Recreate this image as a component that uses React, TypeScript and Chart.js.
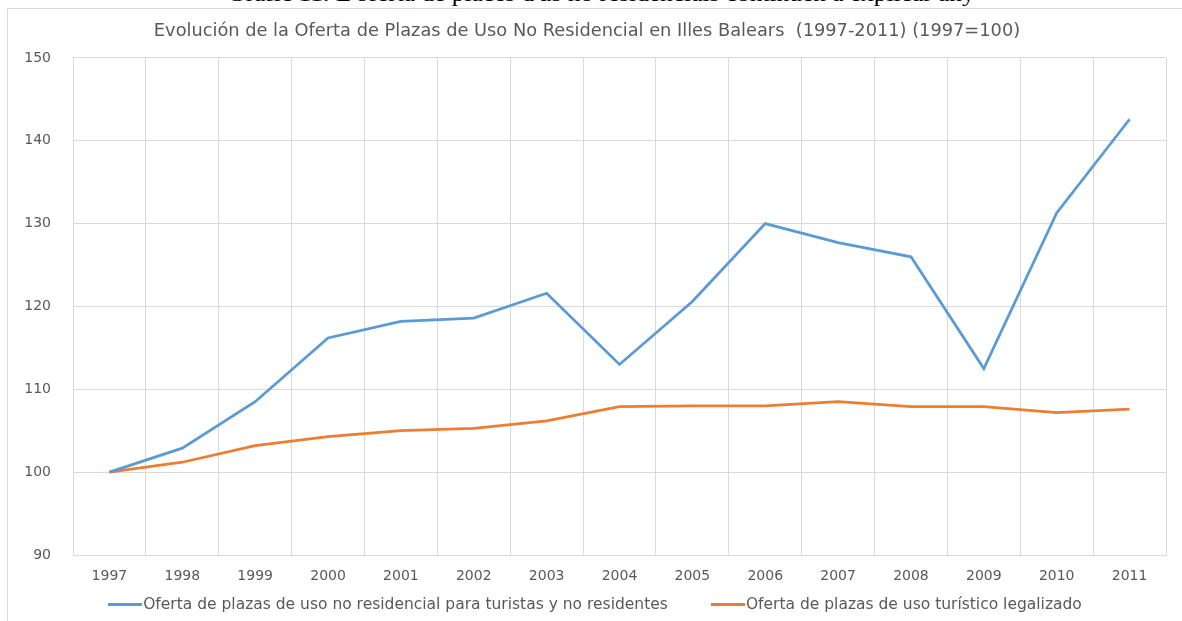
import React, { useEffect, useRef } from "react";
import { Chart, registerables } from "chart.js";

Chart.register(...registerables);

const years = ["1997", "1998", "1999", "2000", "2001", "2002", "2003", "2004", "2005", "2006", "2007", "2008", "2009", "2010", "2011"];
const noResidencial = [100, 102.9, 108.5, 116.2, 118.2, 118.6, 121.6, 113.0, 120.6, 130.0, 127.7, 126.0, 112.5, 131.3, 142.6];
const turisticoLegal = [100, 101.2, 103.2, 104.3, 105.0, 105.3, 106.2, 107.9, 108.0, 108.0, 108.5, 107.9, 107.9, 107.2, 107.6];
const seriesNames = [
  "Oferta de plazas de uso no residencial para turistas y no residentes",
  "Oferta de plazas de uso turístico legalizado",
];
const seriesColors = ["#5B9BD5", "#ED7D31"];
const chartTitle = "Evolución de la Oferta de Plazas de Uso No Residencial en Illes Balears  (1997-2011) (1997=100)";
const pageCaption = "Gràfic 11. L'oferta de places d'ús no residencials continuen a explicar any";

const FONT = "'DejaVu Sans', sans-serif";
const TEXT = "#595959";
const GRID = "#d9d9d9";

export default function App() {
  const canvasRef = useRef<HTMLCanvasElement | null>(null);

  useEffect(() => {
    const canvas = canvasRef.current;
    if (!canvas) return;
    const chart = new Chart(canvas, {
      type: "line",
      data: {
        labels: years,
        datasets: [
          {
            label: seriesNames[0],
            data: noResidencial,
            borderColor: seriesColors[0],
            backgroundColor: seriesColors[0],
            borderWidth: 2.75,
            pointRadius: 0,
            tension: 0,
          },
          {
            label: seriesNames[1],
            data: turisticoLegal,
            borderColor: seriesColors[1],
            backgroundColor: seriesColors[1],
            borderWidth: 2.75,
            pointRadius: 0,
            tension: 0,
          },
        ],
      },
      options: {
        responsive: false,
        animation: false,
        devicePixelRatio: 1,
        layout: { padding: { left: 0, right: 10, top: 0, bottom: 36 } },
        plugins: {
          legend: { display: false },
          tooltip: { enabled: false },
          title: {
            display: true,
            text: chartTitle,
            color: TEXT,
            font: { family: FONT, size: 17.8, weight: "normal", lineHeight: 1.2 },
            padding: { top: 11.3, bottom: 16.3 },
          },
        },
        scales: {
          x: {
            offset: true,
            grid: { offset: true, color: GRID, lineWidth: 1, drawTicks: false },
            border: { color: GRID },
            ticks: { color: TEXT, font: { family: FONT, size: 14 }, padding: 13, maxRotation: 0, autoSkip: false },
            afterFit: (s: any) => { s.height = 30; },
          },
          y: {
            min: 90,
            max: 150,
            grid: { color: GRID, lineWidth: 1, drawTicks: false },
            border: { color: GRID },
            ticks: { stepSize: 10, color: TEXT, font: { family: FONT, size: 14 }, padding: 22 },
            afterFit: (s: any) => { s.width = 65; },
          },
        },
      },
    });
    return () => chart.destroy();
  }, []);

  return (
    <div style={{ position: "fixed", left: 0, top: 0, width: 1182, height: 621, overflow: "hidden", background: "#fff" }}>
      <div
        style={{
          position: "absolute",
          left: 10,
          width: 1182,
          top: -16,
          textAlign: "center",
          fontFamily: "'Liberation Serif', 'Times New Roman', serif",
          fontSize: 20,
          lineHeight: "20px",
          color: "#000",
          whiteSpace: "nowrap",
          transform: "scaleX(1.27)",
          transformOrigin: "center",
        }}
      >
        {pageCaption}
      </div>
      <div
        style={{
          position: "absolute",
          left: 7,
          top: 8,
          width: 1180,
          height: 640,
          border: `1px solid ${GRID}`,
          background: "#fff",
        }}
      />
      <canvas
        ref={canvasRef}
        width={1168}
        height={612}
        style={{ position: "absolute", left: 8, top: 9, width: 1168, height: 612 }}
      />
      <div
        style={{
          position: "absolute",
          left: 4,
          width: 1182,
          top: 595,
          display: "flex",
          justifyContent: "center",
          alignItems: "center",
          fontFamily: FONT,
          fontSize: 15.5,
          lineHeight: "18px",
          color: TEXT,
          whiteSpace: "nowrap",
        }}
      >
        {seriesNames.map((name, i) => (
          <div key={name} style={{ display: "flex", alignItems: "center", marginLeft: i === 0 ? 0 : 43 }}>
            <span style={{ display: "inline-block", width: 34, height: 3, background: seriesColors[i], marginRight: 1 }} />
            <span>{name}</span>
          </div>
        ))}
      </div>
    </div>
  );
}
